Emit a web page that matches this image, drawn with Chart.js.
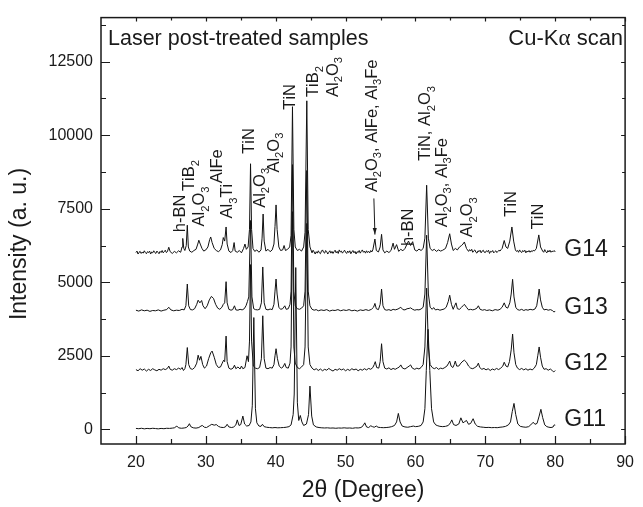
<!DOCTYPE html>
<html>
<head>
<meta charset="utf-8">
<script src="https://cdn.jsdelivr.net/npm/chart.js@4.4.0/dist/chart.umd.min.js"></script>
<style>
  html, body { margin: 0; padding: 0; background: #fff; }
</style>
</head>
<body>
<canvas id="xrd" width="643" height="507"></canvas>
<script>
// axis ticks
const X_MAJOR = [20, 30, 40, 50, 60, 70, 80, 90];
const X_MINOR = [25, 35, 45, 55, 65, 75, 85];
const Y_MAJOR = [0, 2500, 5000, 7500, 10000, 12500];
const Y_MINOR = [1250, 3750, 6250, 8750, 11250, 13750];

// patterns, [2theta, intensity] (already stacked)
const G14 = [[20.0,6010],[20.15,6060],[20.3,5960],[20.45,6020],[20.6,6050],[20.75,5980],[20.9,6030],[21.05,5990],[21.2,6070],[21.35,6010],[21.5,5970],[21.65,6040],[21.8,6010],[21.95,6060],[22.1,5960],[22.25,6030],[22.4,6000],[22.55,6070],[22.7,6010],[22.85,5980],[23.0,6060],[23.15,6020],[23.3,5970],[23.45,6050],[23.6,6010],[23.75,6080],[23.9,6000],[24.05,6040],[24.2,6090],[24.35,6010],[24.5,6040],[24.7,6190],[24.9,6040],[25.2,5980],[25.5,6050],[25.8,6000],[26.1,6070],[26.4,6020],[26.6,6200],[26.7,6490],[26.85,6150],[27.0,6080],[27.2,6250],[27.35,6940],[27.5,6200],[27.7,6060],[28.0,6020],[28.3,6080],[28.6,6120],[28.85,6300],[29.0,6430],[29.2,6300],[29.45,6150],[29.7,6060],[30.0,6100],[30.3,6200],[30.55,6450],[30.7,6540],[30.9,6350],[31.2,6150],[31.5,6080],[31.8,6040],[32.1,6100],[32.35,6280],[32.5,6520],[32.7,6400],[32.9,6880],[33.05,6300],[33.3,6060],[33.6,6010],[33.85,6080],[34.05,6350],[34.2,6060],[34.5,6020],[34.8,6080],[35.1,6000],[35.4,6150],[35.6,6300],[35.8,6120],[36.05,6200],[36.25,6800],[36.4,9030],[36.55,6800],[36.75,6150],[37.0,6050],[37.3,6100],[37.6,6020],[37.9,6100],[38.05,6500],[38.2,7320],[38.35,6400],[38.6,6060],[38.9,6120],[39.2,6040],[39.5,6100],[39.75,6300],[39.9,6900],[40.05,7630],[40.2,6800],[40.45,6200],[40.7,6080],[41.0,6100],[41.2,6250],[41.4,6080],[41.7,6120],[42.0,6200],[42.2,6600],[42.4,10970],[42.6,6800],[42.8,6200],[43.1,6080],[43.4,6120],[43.7,6060],[44.0,6200],[44.2,6700],[44.45,11170],[44.65,6800],[44.9,6200],[45.2,6000],[45.35,6090],[45.5,6030],[45.65,5960],[45.8,6040],[45.95,5990],[46.1,6070],[46.25,6000],[46.4,5970],[46.55,6060],[46.7,6100],[46.85,6020],[47.0,5990],[47.15,6080],[47.3,6040],[47.45,5960],[47.6,6020],[47.75,6070],[47.9,5990],[48.05,6050],[48.2,5980],[48.35,6040],[48.5,6090],[48.65,6000],[48.8,6050],[48.95,5980],[49.1,6100],[49.25,6030],[49.4,6060],[49.55,5990],[49.7,6040],[49.85,6090],[50.0,6020],[50.15,5980],[50.3,6060],[50.45,6010],[50.6,6070],[50.75,5970],[50.9,6030],[51.05,6080],[51.2,6000],[51.35,6050],[51.5,5960],[51.65,6040],[51.8,6010],[51.95,6080],[52.1,5990],[52.25,6050],[52.4,6100],[52.55,6020],[52.7,6060],[52.85,5990],[53.0,6070],[53.15,6010],[53.3,6050],[53.45,6000],[53.6,6080],[53.75,6030],[53.9,6100],[54.2,6470],[54.4,6080],[54.7,6030],[54.95,6200],[55.15,6630],[55.35,6100],[55.6,6000],[55.9,6060],[56.2,6010],[56.5,6080],[56.8,6330],[57.0,6120],[57.3,6280],[57.6,6050],[57.9,6120],[58.2,6070],[58.5,6150],[58.8,6300],[59.0,6400],[59.3,6250],[59.6,6380],[59.9,6100],[60.2,6060],[60.5,6130],[60.8,6080],[61.1,6150],[61.35,6500],[61.6,8300],[61.85,6500],[62.1,6150],[62.4,6080],[62.7,6120],[63.0,6050],[63.3,6100],[63.6,6060],[63.9,6090],[64.3,6150],[64.6,6350],[64.9,6650],[65.15,6300],[65.4,6080],[65.7,6150],[66.0,6100],[66.3,6200],[66.6,6250],[66.8,6300],[67.0,6370],[67.3,6150],[67.6,6050],[67.75,6110],[67.9,6060],[68.05,6120],[68.2,6020],[68.35,6070],[68.5,6100],[68.65,6020],[68.8,5990],[68.95,6070],[69.1,6040],[69.25,6090],[69.4,6000],[69.55,6060],[69.7,6090],[69.85,6020],[70.0,6010],[70.15,6070],[70.3,6040],[70.45,6090],[70.6,5980],[70.75,6050],[70.9,6030],[71.05,6080],[71.2,6000],[71.35,6040],[71.5,6070],[71.65,6010],[71.8,6050],[71.95,6090],[72.1,6060],[72.25,6110],[72.4,6150],[72.7,6420],[72.95,6200],[73.2,6150],[73.5,6400],[73.8,6880],[74.05,6400],[74.3,6100],[74.45,6050],[74.6,6080],[74.75,6020],[74.9,6100],[75.05,6040],[75.2,6010],[75.35,6080],[75.5,6040],[75.65,6090],[75.8,6000],[75.95,6060],[76.1,6030],[76.25,6080],[76.4,6020],[76.55,6070],[76.7,6040],[76.85,6090],[77.0,6060],[77.15,6100],[77.3,6150],[77.65,6610],[77.9,6200],[78.2,6060],[78.35,6020],[78.5,6110],[78.65,6040],[78.8,6000],[78.95,6080],[79.1,6030],[79.25,6090],[79.4,6020],[79.55,6060],[79.7,6040],[79.85,6080],[80.0,6030]];

const G13 = [[20.0,4050],[20.4,4020],[20.8,4060],[21.2,4030],[21.6,4050],[22.0,4010],[22.4,4040],[22.8,4030],[23.2,4060],[23.6,4020],[24.0,4050],[24.4,4070],[24.7,4150],[25.0,4060],[25.4,4030],[25.8,4050],[26.2,4040],[26.6,4080],[26.9,4060],[27.15,4200],[27.35,4940],[27.55,4200],[27.8,4070],[28.1,4060],[28.4,4100],[28.7,4250],[28.9,4390],[29.15,4300],[29.4,4380],[29.6,4200],[29.9,4100],[30.2,4200],[30.5,4400],[30.8,4520],[31.1,4450],[31.4,4250],[31.7,4120],[32.0,4080],[32.3,4150],[32.5,4250],[32.7,4300],[32.9,5020],[33.05,4300],[33.3,4080],[33.6,4050],[33.85,4070],[34.1,4200],[34.3,4060],[34.6,4050],[34.9,4080],[35.2,4060],[35.5,4100],[35.75,4200],[35.95,4340],[36.15,4500],[36.4,7100],[36.6,4500],[36.85,4100],[37.1,4070],[37.4,4060],[37.7,4080],[37.95,4300],[38.15,5520],[38.35,4300],[38.6,4080],[38.9,4060],[39.2,4090],[39.5,4070],[39.75,4250],[39.9,4700],[40.05,5110],[40.2,4600],[40.45,4150],[40.7,4080],[41.0,4100],[41.3,4200],[41.5,4080],[41.8,4100],[42.05,4250],[42.2,4700],[42.4,9000],[42.6,4700],[42.8,4200],[43.1,4100],[43.4,4080],[43.7,4120],[44.0,4200],[44.2,4700],[44.45,8800],[44.65,4700],[44.9,4200],[45.2,4080],[45.5,4050],[45.8,4070],[46.1,4030],[46.5,4060],[46.9,4040],[47.3,4070],[47.7,4020],[48.1,4050],[48.5,4040],[48.9,4070],[49.3,4030],[49.7,4060],[50.1,4040],[50.5,4070],[50.9,4030],[51.3,4050],[51.7,4020],[52.1,4060],[52.5,4040],[52.9,4070],[53.3,4040],[53.7,4080],[54.0,4150],[54.2,4280],[54.4,4100],[54.7,4070],[54.95,4250],[55.15,4770],[55.35,4200],[55.6,4070],[55.9,4050],[56.2,4070],[56.5,4040],[56.8,4080],[57.1,4060],[57.5,4090],[57.9,4150],[58.2,4070],[58.5,4060],[58.8,4100],[59.1,4110],[59.3,4130],[59.6,4080],[59.9,4050],[60.2,4070],[60.5,4060],[60.8,4090],[61.1,4150],[61.35,4600],[61.6,6600],[61.85,4600],[62.1,4150],[62.4,4080],[62.6,4140],[62.85,4060],[63.2,4080],[63.5,4050],[63.8,4070],[64.1,4090],[64.4,4150],[64.7,4350],[64.9,4560],[65.15,4250],[65.4,4080],[65.6,4200],[65.8,4300],[66.0,4100],[66.3,4080],[66.6,4150],[66.8,4200],[67.0,4250],[67.3,4150],[67.6,4060],[67.9,4080],[68.2,4060],[68.5,4080],[68.8,4120],[69.0,4200],[69.25,4080],[69.6,4050],[69.9,4070],[70.2,4040],[70.6,4060],[71.0,4030],[71.4,4070],[71.8,4050],[72.1,4080],[72.4,4150],[72.7,4300],[72.95,4150],[73.2,4120],[73.5,4300],[73.7,4600],[73.9,5100],[74.1,4500],[74.35,4150],[74.6,4070],[74.9,4050],[75.2,4080],[75.5,4040],[75.8,4070],[76.1,4050],[76.4,4080],[76.8,4060],[77.1,4090],[77.35,4200],[77.55,4500],[77.7,4770],[77.9,4400],[78.15,4150],[78.4,4060],[78.7,4080],[79.0,4050],[79.3,4070],[79.6,4040],[79.8,3990],[80.0,4010]];

const G12 = [[20.0,2030],[20.3,1990],[20.6,2060],[20.9,2010],[21.2,2050],[21.5,1980],[21.8,2040],[22.1,2000],[22.4,2060],[22.7,2020],[23.0,1990],[23.3,2040],[23.6,2010],[23.9,2060],[24.2,2030],[24.5,2070],[24.7,2150],[24.9,2040],[25.2,2010],[25.5,2060],[25.8,2030],[26.1,2080],[26.4,2040],[26.6,2100],[26.8,2000],[27.0,2060],[27.15,2200],[27.35,2780],[27.55,2200],[27.8,2060],[28.1,2040],[28.4,2100],[28.7,2250],[28.9,2520],[29.1,2350],[29.3,2480],[29.55,2200],[29.8,2080],[30.1,2150],[30.4,2400],[30.7,2600],[30.9,2660],[31.2,2450],[31.5,2200],[31.8,2100],[32.1,2120],[32.35,2250],[32.55,2350],[32.7,2300],[32.9,3170],[33.05,2300],[33.3,2080],[33.6,2040],[33.9,2080],[34.1,2180],[34.3,2060],[34.6,2120],[34.9,2050],[35.1,2150],[35.3,2060],[35.6,2100],[35.9,2500],[36.1,2300],[36.25,3000],[36.4,5600],[36.55,3000],[36.8,2150],[37.1,2080],[37.4,2060],[37.7,2100],[37.95,2400],[38.15,3860],[38.35,2400],[38.6,2080],[38.9,2060],[39.2,2100],[39.5,2080],[39.75,2200],[39.9,2500],[40.05,2740],[40.25,2400],[40.5,2150],[40.8,2080],[41.05,2120],[41.3,2240],[41.5,2100],[41.8,2080],[42.05,2250],[42.2,2800],[42.4,7400],[42.6,2800],[42.8,2250],[43.1,2100],[43.4,2060],[43.7,2120],[44.0,2200],[44.2,2800],[44.45,7000],[44.65,2800],[44.9,2200],[45.2,2080],[45.5,2020],[45.8,2060],[46.1,2000],[46.4,2050],[46.7,1990],[47.0,2040],[47.3,2010],[47.6,2070],[47.9,2020],[48.2,1980],[48.5,2040],[48.8,2010],[49.1,2060],[49.4,2020],[49.7,2050],[50.0,1990],[50.3,2040],[50.6,2000],[50.9,2060],[51.2,2020],[51.5,2050],[51.8,1990],[52.1,2040],[52.4,2010],[52.7,2060],[53.0,2020],[53.3,2070],[53.6,2040],[53.9,2100],[54.1,2200],[54.25,2300],[54.45,2100],[54.75,2080],[54.95,2300],[55.15,2910],[55.35,2300],[55.6,2080],[55.9,2050],[56.2,2090],[56.5,2030],[56.8,2070],[57.1,2040],[57.4,2080],[57.7,2120],[57.9,2190],[58.15,2080],[58.5,2050],[58.8,2100],[59.1,2150],[59.3,2190],[59.55,2080],[59.9,2040],[60.2,2080],[60.5,2050],[60.8,2100],[61.1,2200],[61.35,2800],[61.6,4800],[61.85,2800],[62.1,2200],[62.4,2100],[62.7,2060],[63.0,2100],[63.3,2040],[63.6,2080],[63.9,2060],[64.2,2100],[64.5,2150],[64.75,2250],[64.9,2320],[65.1,2150],[65.35,2100],[65.55,2200],[65.7,2320],[65.9,2150],[66.2,2150],[66.5,2250],[66.8,2320],[67.0,2350],[67.3,2280],[67.6,2150],[67.9,2080],[68.2,2060],[68.5,2100],[68.8,2150],[69.0,2250],[69.2,2100],[69.5,2040],[69.8,2070],[70.1,2020],[70.4,2060],[70.7,2000],[71.0,2050],[71.3,2020],[71.6,2070],[71.9,2030],[72.2,2080],[72.5,2150],[72.7,2280],[72.95,2150],[73.2,2120],[73.45,2300],[73.7,2700],[73.9,3240],[74.1,2600],[74.35,2200],[74.6,2080],[74.9,2030],[75.2,2070],[75.5,2020],[75.8,2060],[76.1,2010],[76.4,2050],[76.7,2020],[77.0,2080],[77.3,2200],[77.5,2500],[77.7,2800],[77.9,2450],[78.15,2150],[78.4,2040],[78.7,2060],[79.0,2010],[79.3,2050],[79.6,1990],[79.8,1950],[80.0,2000]];

const G11 = [[20.0,30],[20.4,20],[20.8,35],[21.2,15],[21.6,30],[22.0,20],[22.4,35],[22.8,25],[23.2,15],[23.6,30],[24.0,20],[24.4,35],[24.8,30],[25.2,40],[25.5,50],[25.85,110],[26.1,50],[26.5,35],[26.9,45],[27.2,60],[27.45,110],[27.65,190],[27.85,90],[28.2,50],[28.6,40],[29.0,60],[29.3,110],[29.5,130],[29.8,70],[30.1,60],[30.5,120],[30.85,170],[31.2,140],[31.5,160],[31.8,100],[32.1,70],[32.5,60],[32.8,80],[33.05,170],[33.3,80],[33.7,60],[34.0,80],[34.3,150],[34.5,320],[34.75,130],[35.0,160],[35.3,450],[35.55,180],[35.85,110],[36.2,130],[36.45,250],[36.65,800],[36.87,3800],[37.1,700],[37.3,220],[37.6,110],[37.9,100],[38.1,170],[38.35,90],[38.7,70],[39.1,60],[39.5,50],[39.9,60],[40.3,50],[40.7,55],[41.1,60],[41.5,70],[41.9,90],[42.2,150],[42.5,500],[42.65,1200],[42.87,5500],[43.1,900],[43.3,300],[43.52,470],[43.75,250],[44.0,130],[44.4,180],[44.7,500],[44.9,1470],[45.15,450],[45.4,150],[45.8,80],[46.2,60],[46.6,50],[47.0,45],[47.4,50],[47.8,40],[48.2,45],[48.6,35],[49.0,45],[49.4,40],[49.8,50],[50.2,40],[50.6,45],[51.0,35],[51.4,50],[51.8,45],[52.2,60],[52.5,120],[52.75,220],[53.0,80],[53.3,60],[53.6,120],[53.85,90],[54.1,70],[54.4,110],[54.65,70],[55.0,60],[55.4,55],[55.8,60],[56.2,70],[56.6,90],[57.0,130],[57.3,250],[57.55,540],[57.8,250],[58.1,110],[58.5,80],[58.9,70],[59.3,90],[59.7,110],[60.0,90],[60.4,100],[60.8,130],[61.1,250],[61.35,700],[61.55,2000],[61.8,3400],[62.05,2000],[62.3,700],[62.6,250],[62.9,150],[63.2,120],[63.5,100],[63.9,90],[64.3,100],[64.7,130],[65.0,220],[65.2,320],[65.45,160],[65.8,130],[66.2,180],[66.5,390],[66.8,220],[67.05,260],[67.3,300],[67.6,170],[67.9,200],[68.25,360],[68.55,180],[68.9,100],[69.3,80],[69.7,70],[70.1,60],[70.5,65],[70.9,55],[71.3,60],[71.7,55],[72.1,70],[72.5,80],[72.9,100],[73.3,150],[73.6,250],[73.85,600],[74.1,880],[74.35,500],[74.65,180],[75.0,100],[75.4,80],[75.8,70],[76.2,90],[76.5,150],[76.85,240],[77.1,170],[77.4,200],[77.7,450],[77.95,680],[78.2,400],[78.5,150],[78.8,90],[79.1,70],[79.4,60],[79.7,80],[79.85,150],[80.0,140]];

const SAMPLE_NAMES = ["G14", "G13", "G12", "G11"];
const SAMPLE_LEVELS = [6100, 4130, 2230, 330];

// phase labels: text ("_" = subscript char), 2theta of text centre, intensity at text start
const PHASE_LABELS = [
  ["h-BN", 26.1, 6700], ["TiB_2", 27.5, 8100], ["Al_2O_3", 28.9, 6900],
  ["AlFe", 31.4, 8370], ["Al_3Ti", 32.95, 7170], ["TiN", 36.05, 9370],
  ["Al_2O_3", 37.6, 7530], ["Al_2O_3", 39.6, 8730], ["TiN", 41.95, 10870],
  ["TiB_2", 45.2, 11300], ["Al_2O_3", 48.0, 11300],
  ["Al_2O_3, AlFe, Al_3Fe", 53.6, 8070], ["h-BN", 58.85, 6230],
  ["TiN, Al_2O_3", 61.25, 9130], ["Al_2O_3, Al_3Fe", 63.6, 6870],
  ["Al_2O_3", 67.3, 6530], ["TiN", 73.5, 7230], ["TiN", 77.4, 6800]
];
const ARROW = [[54.05, 7850], [54.2, 6620]];

const FONT = '"Liberation Sans", Arial, Helvetica, sans-serif';
const INK = '#1a1a1a';

function drawRich(ctx, str, size) {
  // draws str starting at (0,0) along +x, alphabetic baseline at y=0
  let x = 0;
  for (let i = 0; i < str.length; i++) {
    const ch = str[i];
    if (ch === '_') {
      const s = str[++i];
      ctx.font = (size * 0.68) + 'px ' + FONT;
      ctx.fillText(s, x, size * 0.28);
      x += ctx.measureText(s).width;
    } else {
      ctx.font = size + 'px ' + FONT;
      ctx.fillText(ch, x, 0);
      x += ctx.measureText(ch).width;
    }
  }
}

const decor = {
  id: 'decor',
  afterDraw(chart) {
    const { ctx, chartArea: a, scales: { x, y } } = chart;
    ctx.save();
    ctx.strokeStyle = INK;
    ctx.fillStyle = INK;
    // frame
    ctx.lineWidth = 1.5;
    ctx.strokeRect(a.left, a.top, a.right - a.left, a.bottom - a.top);
    // inward ticks
    ctx.lineWidth = 1.2;
    ctx.beginPath();
    X_MAJOR.concat(X_MINOR).forEach(v => {
      const px = Math.round(x.getPixelForValue(v)) + 0.5;
      const major = X_MAJOR.includes(v);
      ctx.moveTo(px, a.bottom); ctx.lineTo(px, a.bottom - (major ? 8 : 5));
      ctx.moveTo(px, a.top); ctx.lineTo(px, a.top + (major ? 4 : 3));
    });
    Y_MAJOR.concat(Y_MINOR).forEach(v => {
      const py = Math.round(y.getPixelForValue(v)) + 0.5;
      const major = Y_MAJOR.includes(v);
      ctx.moveTo(a.left, py); ctx.lineTo(a.left + (major ? 9 : 5), py);
      ctx.moveTo(a.right, py); ctx.lineTo(a.right - (major ? 4 : 3), py);
    });
    ctx.stroke();

    // y axis title
    ctx.save();
    ctx.translate(20, 244);
    ctx.rotate(-Math.PI / 2);
    ctx.font = '23px ' + FONT;
    ctx.textAlign = 'center';
    ctx.textBaseline = 'middle';
    ctx.fillText('Intensity (a. u.)', 0, 0);
    ctx.restore();

    // header texts
    ctx.font = '21.5px ' + FONT;
    ctx.textBaseline = 'alphabetic';
    ctx.textAlign = 'left';
    ctx.fillText('Laser post-treated samples', a.left + 7, a.top + 27);
    ctx.textAlign = 'right';
    ctx.font = '22px ' + FONT;
    const scanW = ctx.measureText(' scan').width;
    ctx.fillText(' scan', a.right - 2, a.top + 27);
    ctx.font = '23px "Liberation Serif", "DejaVu Serif", serif';
    const alphaW = ctx.measureText('\u03b1').width;
    ctx.fillText('\u03b1', a.right - 2 - scanW, a.top + 27);
    ctx.font = '22px ' + FONT;
    ctx.fillText('Cu-K', a.right - 2 - scanW - alphaW, a.top + 27);

    // sample names
    ctx.textAlign = 'left';
    ctx.textBaseline = 'middle';
    ctx.font = '23px ' + FONT;
    SAMPLE_NAMES.forEach((n, i) => {
      ctx.fillText(n, x.getPixelForValue(81.3), y.getPixelForValue(SAMPLE_LEVELS[i]));
    });

    // phase labels, rotated
    ctx.textAlign = 'left';
    ctx.textBaseline = 'alphabetic';
    const fs = 16.5;
    PHASE_LABELS.forEach(([t, tx, ty]) => {
      ctx.save();
      ctx.translate(x.getPixelForValue(tx), y.getPixelForValue(ty));
      ctx.rotate(-Math.PI / 2);
      ctx.translate(0, fs * 0.36);
      drawRich(ctx, t, fs);
      ctx.restore();
    });

    // arrow
    const x0 = x.getPixelForValue(ARROW[0][0]), y0 = y.getPixelForValue(ARROW[0][1]);
    const x1 = x.getPixelForValue(ARROW[1][0]), y1 = y.getPixelForValue(ARROW[1][1]);
    ctx.lineWidth = 1;
    ctx.beginPath(); ctx.moveTo(x0, y0); ctx.lineTo(x1, y1); ctx.stroke();
    const ang = Math.atan2(y1 - y0, x1 - x0);
    ctx.beginPath();
    ctx.moveTo(x1, y1);
    ctx.lineTo(x1 - 7 * Math.cos(ang - 0.3), y1 - 7 * Math.sin(ang - 0.3));
    ctx.lineTo(x1 - 7 * Math.cos(ang + 0.3), y1 - 7 * Math.sin(ang + 0.3));
    ctx.closePath(); ctx.fill();
    ctx.restore();
  }
};

const series = (data) => ({
  data, showLine: true, pointRadius: 0, borderColor: '#111', borderWidth: 1, tension: 0
});

new Chart(document.getElementById('xrd'), {
  type: 'scatter',
  data: { datasets: [series(G11), series(G12), series(G13), series(G14)] },
  options: {
    responsive: false,
    animation: false,
    events: [],
    layout: { padding: { top: 10, right: 9, left: 0, bottom: 0 } },
    plugins: { legend: { display: false }, tooltip: { enabled: false } },
    scales: {
      x: {
        type: 'linear', min: 15, max: 90,
        afterBuildTicks: s => { s.ticks = X_MAJOR.map(v => ({ value: v })); },
        afterFit: s => { s.height = 63; },
        grid: { display: false, drawTicks: false },
        border: { display: false },
        ticks: { color: INK, font: { family: FONT, size: 16 }, padding: 9, maxRotation: 0, autoSkip: false,
                 callback: v => String(v) },
        title: { display: true, text: '2\u03b8 (Degree)', color: INK, font: { family: FONT, size: 23 }, padding: { top: 0, bottom: 3 } }
      },
      y: {
        type: 'linear', min: -500, max: 14000,
        afterBuildTicks: s => { s.ticks = Y_MAJOR.map(v => ({ value: v })); },
        afterFit: s => { s.width = 101; },
        grid: { display: false, drawTicks: false },
        border: { display: false },
        ticks: { color: INK, font: { family: FONT, size: 16 }, padding: 8, autoSkip: false,
                 callback: v => String(v) },
        title: { display: false }
      }
    }
  },
  plugins: [decor]
});
</script>
</body>
</html>
